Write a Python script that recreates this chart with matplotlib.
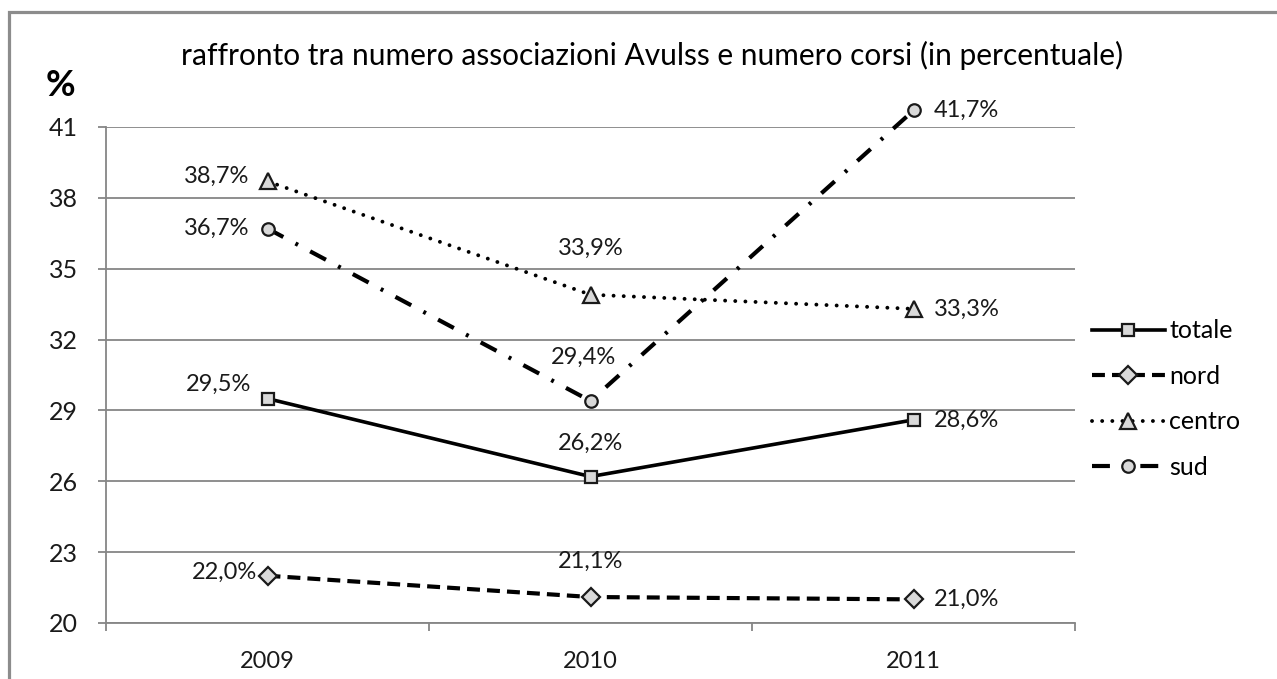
import numpy as np
import matplotlib
matplotlib.use("Agg")
import matplotlib.pyplot as plt
from matplotlib.patches import Rectangle

plt.rcParams["font.family"] = ["Lato", "DejaVu Sans"]

# data
anni = ["2009", "2010", "2011"]
totale = [29.5, 26.2, 28.6]
nord = [22.0, 21.1, 21.0]
centro = [38.7, 33.9, 33.3]
sud = [36.7, 29.4, 41.7]
yticks = [20, 23, 26, 29, 32, 35, 38, 41]

W, H = 1277, 679
fig = plt.figure(figsize=(W / 100, H / 100), dpi=100)
ax = fig.add_axes([106 / W, 1 - 623 / H, (1075 - 106) / W, (623 - 127) / H])

x = np.arange(len(anni))
face = "#d9d9d9"
edge = "#1a1a1a"

series = [
    ("totale", totale, dict(ls="-", lw=2.6, marker="s", ms=9)),
    ("nord", nord, dict(ls=(0, (3.1, 1.7)), lw=3.0, marker="D", ms=9)),
    ("centro", centro, dict(ls=(0, (0.01, 2.6)), lw=2.8, marker="^", ms=11,
                            dash_capstyle="round")),
    ("sud", sud, dict(ls=(0, (4.3, 3.3, 0.7, 3.3)), lw=3.0, marker="o", ms=9)),
]
for name, vals, st in series:
    ax.plot(x, vals, color="black", mfc=face, mec=edge, mew=1.6,
            label=name, zorder=3, clip_on=False, **st)

# data labels (left for 2009, above for 2010, right for 2011)
fs = 17
off_2009 = {"totale": (-16, 14), "nord": (-10, 3), "centro": (-18, 5), "sud": (-18, 0)}
off_2010 = {"totale": (0, 33), "nord": (0, 36), "centro": (0, 46), "sud": (-7, 44)}
for name, vals, st in series:
    lab = [f"{v:.1f}%".replace(".", ",") for v in vals]
    ax.annotate(lab[0], (x[0], vals[0]), textcoords="offset pixels", annotation_clip=False,
                xytext=off_2009[name], ha="right", va="center", fontsize=fs, color="#1a1a1a")
    ax.annotate(lab[1], (x[1], vals[1]), textcoords="offset pixels", annotation_clip=False,
                xytext=off_2010[name], ha="center", va="center", fontsize=fs, color="#1a1a1a")
    ax.annotate(lab[2], (x[2], vals[2]), textcoords="offset pixels", annotation_clip=False,
                xytext=(20, 0), ha="left", va="center", fontsize=fs, color="#1a1a1a")

ax.set_xlim(-0.5, 2.5)
ax.set_ylim(20, 41)
ax.set_yticks(yticks)
ax.set_xticks(x)
ax.set_xticklabels(anni)
ax.set_xticks([-0.5, 0.5, 1.5, 2.5], minor=True)
ax.grid(axis="y", color="#868686", lw=1.3)
ax.set_axisbelow(True)
for s in ["top", "right"]:
    ax.spines[s].set_visible(False)
for s in ["left", "bottom"]:
    ax.spines[s].set_color("#868686")
    ax.spines[s].set_linewidth(1.3)
ax.tick_params(axis="y", length=6, width=1.3, color="#868686", pad=14, labelsize=18)
ax.tick_params(axis="x", which="major", length=0, pad=20, labelsize=17)
ax.tick_params(axis="x", which="minor", length=6, width=1.3, color="#868686")
for t in ax.get_xticklabels() + ax.get_yticklabels():
    t.set_color("#1a1a1a")

fig.text(652 / W, 1 - 55 / H, "raffronto tra numero associazioni Avulss e numero corsi (in percentuale)",
         ha="center", va="center", fontsize=21.5, color="black")
fig.text(46 / W, 1 - 85 / H, "%", ha="left", va="center", fontsize=26, fontweight="bold")

fig.legend(loc="center left", bbox_to_anchor=(1092 / W, 1 - 399 / H), frameon=False,
           fontsize=18, handlelength=2.9, handletextpad=0.2, labelspacing=0.9,
           borderpad=0, borderaxespad=0, numpoints=1)

# outer frame of the chart
fig.patches.append(Rectangle((9 / W, -0.2), 1.2, 1 - 12 / H + 0.2, transform=fig.transFigure,
                             fill=False, edgecolor="#8c8c8c", lw=2.3))

fig.savefig("out.png", dpi=100)
